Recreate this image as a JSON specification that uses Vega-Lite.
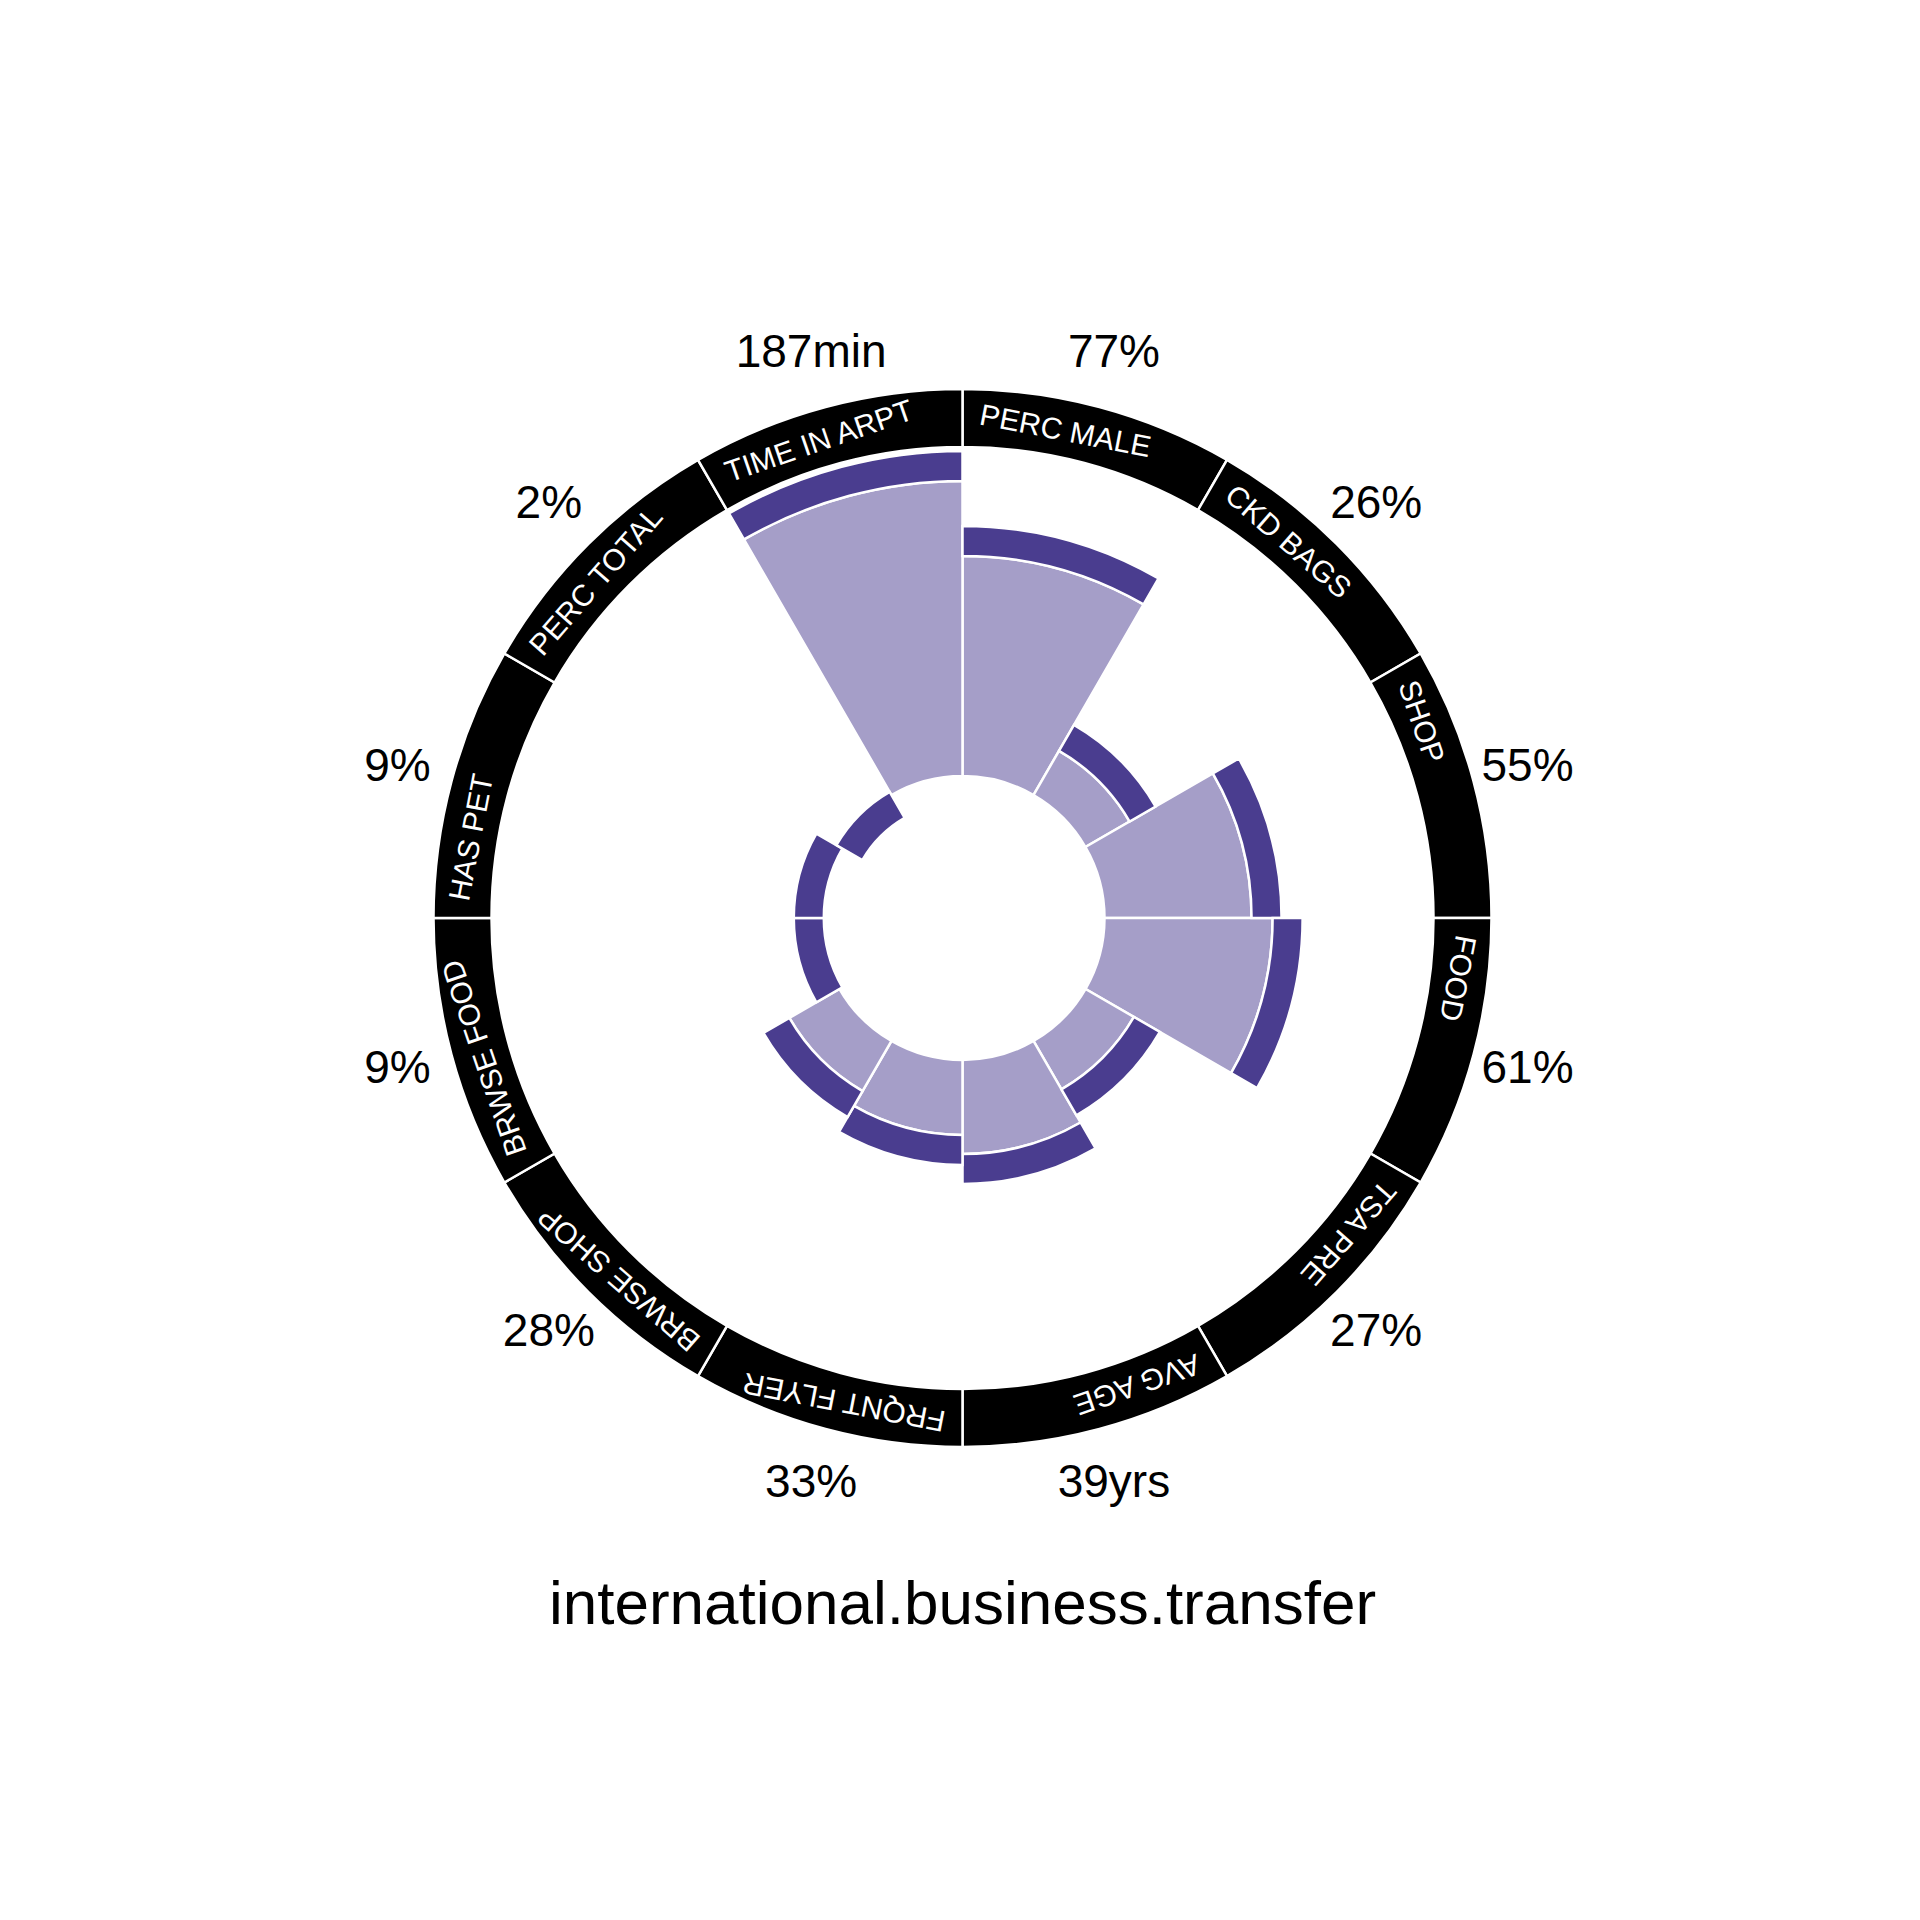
{
  "$schema": "https://vega.github.io/schema/vega-lite/v6.json",
  "width": 1925,
  "height": 1836,
  "autosize": {"type": "none"},
  "padding": 0,
  "background": "white",
  "title": {
    "text": "international.business.transfer",
    "orient": "bottom",
    "frame": "group",
    "anchor": "middle",
    "offset": -261,
    "fontSize": 62,
    "font": "Liberation Sans",
    "fontWeight": "normal",
    "color": "black"
  },
  "data": {
    "values": [
      {"i": 0, "metric": "PERC MALE", "label": "77%", "score": 66.9},
      {"i": 1, "metric": "CKD BAGS", "label": "26%", "score": 15.5},
      {"i": 2, "metric": "SHOP", "label": "55%", "score": 44.7},
      {"i": 3, "metric": "FOOD", "label": "61%", "score": 51.1},
      {"i": 4, "metric": "TSA PRE", "label": "27%", "score": 17.0},
      {"i": 5, "metric": "AVG AGE", "label": "39yrs", "score": 28.6},
      {"i": 6, "metric": "FRQNT FLYER", "label": "33%", "score": 22.8},
      {"i": 7, "metric": "BRWSE SHOP", "label": "28%", "score": 17.6},
      {"i": 8, "metric": "BRWSE FOOD", "label": "9%", "score": -1.0},
      {"i": 9, "metric": "HAS PET", "label": "9%", "score": -1.0},
      {"i": 10, "metric": "PERC TOTAL", "label": "2%", "score": -8.0},
      {"i": 11, "metric": "TIME IN ARPT", "label": "187min", "score": 89.7}
    ]
  },
  "layer": [
    {
      "mark": {"type": "arc", "fill": "black", "stroke": "white", "strokeWidth": 2.5, "theta2Offset": 0.5235987755982988},
      "encoding": {
        "theta": {"field": "i", "type": "quantitative", "scale": {"domain": [0, 12], "range": [0, 6.283185307179586]}},
        "theta2": {"field": "i"},
        "radius": {"datum": 117.63, "type": "quantitative", "scale": {"type": "linear", "zero": false, "domain": [0, 100], "range": [142, 471]}},
        "radius2": {"datum": 100}
      }
    },
    {
      "transform": [{"filter": "datum.score > 0"}],
      "mark": {"type": "arc", "fill": "#a59ec8", "stroke": "white", "strokeWidth": 2.5, "theta2Offset": 0.5235987755982988},
      "encoding": {
        "theta": {"field": "i", "type": "quantitative", "scale": {"domain": [0, 12], "range": [0, 6.283185307179586]}},
        "theta2": {"field": "i"},
        "radius": {"field": "score", "type": "quantitative", "scale": {"type": "linear", "zero": false, "domain": [0, 100], "range": [142, 471]}},
        "radius2": {"datum": 0}
      }
    },
    {
      "mark": {"type": "arc", "fill": "#4a3d8f", "stroke": "white", "strokeWidth": 2.5, "theta2Offset": 0.5235987755982988, "radiusOffset": 30},
      "encoding": {
        "theta": {"field": "i", "type": "quantitative", "scale": {"domain": [0, 12], "range": [0, 6.283185307179586]}},
        "theta2": {"field": "i"},
        "radius": {"field": "score", "type": "quantitative", "scale": {"type": "linear", "zero": false, "domain": [0, 100], "range": [142, 471]}},
        "radius2": {"field": "score"}
      }
    },
    {
      "mark": {"type": "text", "align": "left", "baseline": "middle", "fontSize": 30, "font": "Liberation Sans", "color": "white", "thetaOffset": 0.0349},
      "encoding": {
        "theta": {"field": "i", "type": "quantitative", "scale": {"domain": [0, 12], "range": [0, 6.283185307179586]}},
        "radius": {"datum": 109.7, "type": "quantitative", "scale": {"type": "linear", "zero": false, "domain": [0, 100], "range": [142, 471]}},
        "angle": {"field": "i", "type": "quantitative", "scale": {"domain": [0, 12], "range": [11, 371]}},
        "text": {"field": "metric"}
      }
    },
    {
      "mark": {"type": "text", "align": "center", "baseline": "middle", "fontSize": 46, "font": "Liberation Sans", "color": "black", "thetaOffset": 0.2618},
      "encoding": {
        "theta": {"field": "i", "type": "quantitative", "scale": {"domain": [0, 12], "range": [0, 6.283185307179586]}},
        "radius": {"datum": 134.65, "type": "quantitative", "scale": {"type": "linear", "zero": false, "domain": [0, 100], "range": [142, 471]}},
        "text": {"field": "label"}
      }
    }
  ],
  "config": {"view": {"stroke": null}}
}
